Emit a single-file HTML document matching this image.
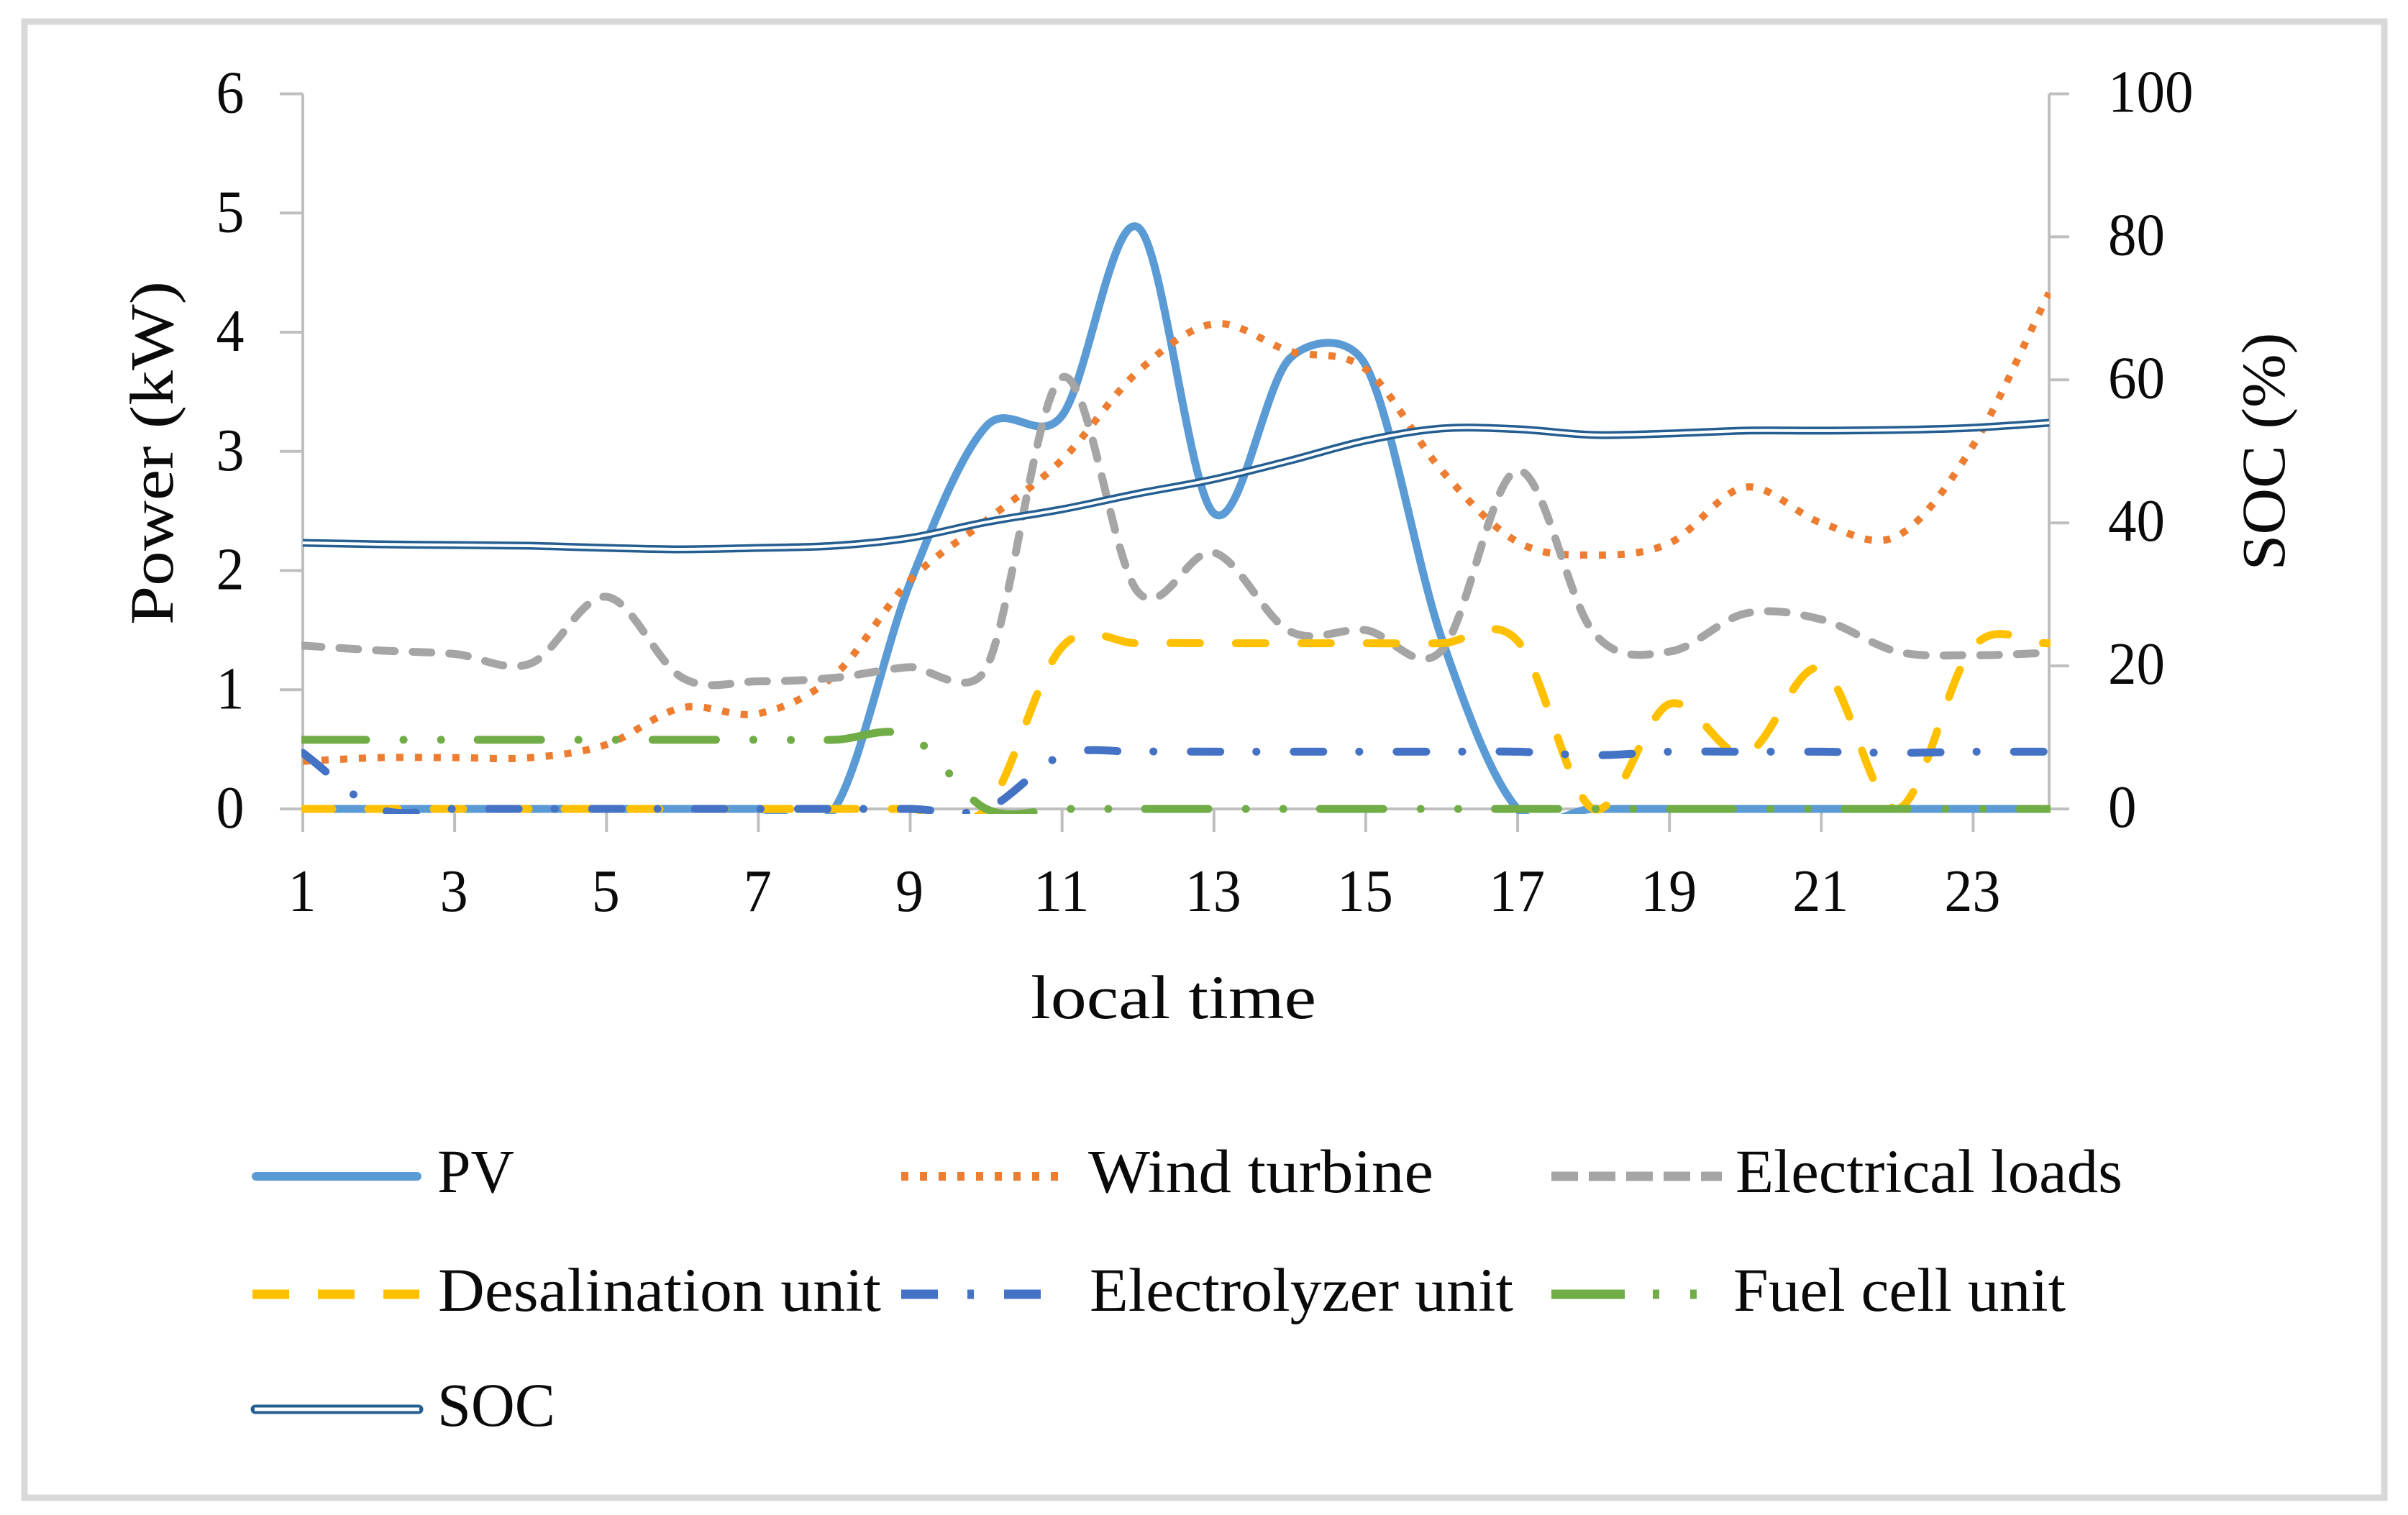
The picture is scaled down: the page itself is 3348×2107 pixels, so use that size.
<!DOCTYPE html>
<html>
<head>
<meta charset="utf-8">
<title>Power and SOC over local time</title>
<style>
html,body{margin:0;padding:0;background:#fff;width:3348px;height:2107px;overflow:hidden}
svg{display:block}
text{font-family:"Liberation Serif","DejaVu Serif",serif;fill:#0a0a0a}
</style>
</head>
<body>
<svg id="chart" xmlns="http://www.w3.org/2000/svg" width="3348" height="2107" viewBox="0 0 3348 2107">
  <rect x="34" y="30" width="3281" height="2053" fill="#fff" stroke="#d9d9d9" stroke-width="9"/>
  <defs><clipPath id="plot-clip"><rect x="419" y="100" width="2432" height="1032"/></clipPath></defs>
  <g id="axes"></g>
  <g id="series" clip-path="url(#plot-clip)" fill="none"></g>
  <text transform="translate(240,630) rotate(-90)" text-anchor="middle" font-size="86" textLength="478" lengthAdjust="spacingAndGlyphs">Power (kW)</text>
  <text transform="translate(3176,628) rotate(-90)" text-anchor="middle" font-size="86" textLength="331" lengthAdjust="spacingAndGlyphs">SOC (%)</text>
  <text x="1433" y="1416" font-size="86" textLength="397" lengthAdjust="spacingAndGlyphs">local time</text>

  <g>
    <g>
      <line x1="356" y1="1636" x2="580" y2="1636" stroke="#5b9bd5" stroke-width="12" stroke-linecap="round"/>
      <text x="608" y="1658" font-size="86" textLength="107" lengthAdjust="spacingAndGlyphs">PV</text>
    </g>
    <g>
      <line x1="1253" y1="1636" x2="1474" y2="1636" stroke="#ed7d31" stroke-width="12" stroke-dasharray="10 16"/>
      <text x="1513" y="1658" font-size="86" textLength="480" lengthAdjust="spacingAndGlyphs">Wind turbine</text>
    </g>
    <g>
      <line x1="2157" y1="1636" x2="2394" y2="1636" stroke="#a5a5a5" stroke-width="13" stroke-dasharray="37 15"/>
      <text x="2413" y="1658" font-size="86" textLength="538" lengthAdjust="spacingAndGlyphs">Electrical loads</text>
    </g>
    <g>
      <line x1="351" y1="1800" x2="583" y2="1800" stroke="#ffc000" stroke-width="13" stroke-dasharray="51 40"/>
      <text x="609" y="1823" font-size="86" textLength="616" lengthAdjust="spacingAndGlyphs">Desalination unit</text>
    </g>
    <g>
      <line x1="1253" y1="1800" x2="1447" y2="1800" stroke="#4472c4" stroke-width="13" stroke-dasharray="51 41 9 42"/>
      <text x="1515" y="1823" font-size="86" textLength="589" lengthAdjust="spacingAndGlyphs">Electrolyzer unit</text>
    </g>
    <g>
      <line x1="2157" y1="1800" x2="2364" y2="1800" stroke="#70ad47" stroke-width="13" stroke-dasharray="102 39 9 43 9 5"/>
      <text x="2410" y="1823" font-size="86" textLength="462" lengthAdjust="spacingAndGlyphs">Fuel cell unit</text>
    </g>
    <g>
      <line x1="355" y1="1960" x2="582" y2="1960" stroke="#255e91" stroke-width="13" stroke-linecap="round"/>
      <line x1="354" y1="1960" x2="583" y2="1960" stroke="#fff" stroke-width="5"/>
      <text x="608" y="1983" font-size="86" textLength="164" lengthAdjust="spacingAndGlyphs">SOC</text>
    </g>
  </g>
</svg>

<script>
var hours = [1,2,3,4,5,6,7,8,9,10,11,12,13,14,15,16,17,18,19,20,21,22,23,24];
var xTickLabels = [1,3,5,7,9,11,13,15,17,19,21,23];
var yTickLabels = [0,1,2,3,4,5,6];
var y2TickLabels = [0,20,40,60,80,100];

var pvValues = [0,0,0,0,0,0,0,0,1.90,3.21,3.30,4.88,2.48,3.78,3.72,1.43,0,0,0,0,0,0,0,0];
var windValues = [0.40,0.43,0.43,0.43,0.54,0.85,0.80,1.12,1.92,2.42,2.93,3.67,4.07,3.84,3.69,2.84,2.24,2.13,2.23,2.70,2.40,2.29,3.05,4.33];
var loadValues = [1.37,1.33,1.30,1.22,1.78,1.10,1.07,1.10,1.19,1.18,3.62,1.82,2.15,1.49,1.50,1.33,2.84,1.48,1.32,1.64,1.59,1.32,1.29,1.31];
var desalValues = [0,0,0,0,0,0,0,0,0,0,1.36,1.39,1.39,1.39,1.39,1.39,1.41,0,0.88,0.46,1.18,0,1.36,1.39];
var electrolyzerValues = [0.47,0,0,0,0,0,0,0,0,0,0.45,0.48,0.48,0.48,0.48,0.48,0.48,0.45,0.48,0.48,0.48,0.47,0.48,0.48];
var fuelCellValues = [0.58,0.58,0.58,0.58,0.58,0.58,0.58,0.58,0.61,0,0,0,0,0,0,0,0,0,0,0,0,0,0,0];
var socValues = [37.2,37,36.9,36.8,36.5,36.3,36.5,36.8,37.9,40.1,41.9,44.1,46.1,48.7,51.5,53.2,53.1,52.3,52.5,52.9,52.9,53,53.3,54];

var NS = 'http://www.w3.org/2000/svg';
var plotLeft = 421, plotRight = 2849, plotTop = 130.5, plotBottom = 1125;

function xScale(h){ return plotLeft + (h - 1) * (plotRight - plotLeft) / 23; }
function yScale(v){ return plotBottom - v * (plotBottom - plotTop) / 6; }
function y2Scale(v){ return plotBottom - v * (plotBottom - plotTop) / 100; }

function dist(a, b){ return Math.sqrt((a[0]-b[0])*(a[0]-b[0]) + (a[1]-b[1])*(a[1]-b[1])); }

/* Spreadsheet-style smoothing: control handles limited to half of the chord. */
function smoothPath(values, scale){
  var pts = values.map(function(v, i){ return [xScale(hours[i]), scale(v)]; });
  var d = 'M' + pts[0][0].toFixed(1) + ' ' + pts[0][1].toFixed(1);
  var last = pts.length - 1;
  for (var i = 0; i < last; i++){
    var p0 = pts[Math.max(i - 1, 0)], p1 = pts[i], p2 = pts[i + 1], p3 = pts[Math.min(i + 2, last)];
    var d02 = dist(p0, p2), d12 = dist(p1, p2), d13 = dist(p1, p3);
    var f = Math.min(1 / 6, (d12 / 2) / Math.max(d02, d13, 0.001));
    var f1 = i === 0 ? f * 2 : f;
    var f2 = i === last - 1 ? f * 2 : f;
    var c1x = p1[0] + (p2[0] - p0[0]) * f1, c1y = p1[1] + (p2[1] - p0[1]) * f1;
    var c2x = p2[0] - (p3[0] - p1[0]) * f2, c2y = p2[1] - (p3[1] - p1[1]) * f2;
    d += 'C' + c1x.toFixed(1) + ' ' + c1y.toFixed(1) + ' ' + c2x.toFixed(1) + ' ' + c2y.toFixed(1) + ' ' + p2[0].toFixed(1) + ' ' + p2[1].toFixed(1);
  }
  return d;
}

function make(tag, attrs, parent){
  var el = document.createElementNS(NS, tag);
  for (var k in attrs){ el.setAttribute(k, attrs[k]); }
  parent.appendChild(el);
  return el;
}

var axes = document.getElementById('axes');
var seriesGroup = document.getElementById('series');
var axisStyle = {stroke:'#bfbfbf', 'stroke-width':4, fill:'none'};
var el;

function styled(extra){
  var o = {};
  for (var k in axisStyle){ o[k] = axisStyle[k]; }
  for (var j in extra){ o[j] = extra[j]; }
  return o;
}

el = make('line', styled({x1:plotLeft, y1:plotTop, x2:plotLeft, y2:plotBottom}), axes);


el = make('line', styled({x1:plotRight, y1:plotTop, x2:plotRight, y2:plotBottom}), axes);


el = make('line', styled({x1:plotLeft, y1:plotBottom, x2:plotRight, y2:plotBottom}), axes);



yTickLabels.forEach(function(v){
  var t = make('line', styled({x1:389, y1:yScale(v), x2:plotLeft, y2:yScale(v)}), axes);
  
  
  var l = make('text', {x:320, y:yScale(v) + 26, 'text-anchor':'middle', 'font-size':84, textLength:39, lengthAdjust:'spacingAndGlyphs'}, axes);
  l.textContent = v;
  
  
});

y2TickLabels.forEach(function(v){
  var t = make('line', styled({x1:plotRight, y1:y2Scale(v), x2:2877, y2:y2Scale(v)}), axes);
  
  
  var n = String(v).length;
  var l = make('text', {x:2931, y:y2Scale(v) + 25, 'font-size':84, textLength:n * 39.5, lengthAdjust:'spacingAndGlyphs'}, axes);
  l.textContent = v;
  
  
});

xTickLabels.forEach(function(h){
  var t = make('line', styled({x1:xScale(h), y1:plotBottom, x2:xScale(h), y2:1157}), axes);
  
  
  var n = String(h).length;
  var l = make('text', {x:xScale(h) - 1, y:1267, 'text-anchor':'middle', 'font-size':84, textLength:n * 39, lengthAdjust:'spacingAndGlyphs'}, axes);
  l.textContent = h;
  
  
});

var p;
p = make('path', {d:smoothPath(pvValues, yScale), stroke:'#5b9bd5', 'stroke-width':11, fill:'none'}, seriesGroup);



p = make('path', {d:smoothPath(windValues, yScale), stroke:'#ed7d31', 'stroke-width':10, 'stroke-dasharray':'10 16', fill:'none'}, seriesGroup);



p = make('path', {d:smoothPath(loadValues, yScale), stroke:'#a5a5a5', 'stroke-width':11, 'stroke-dasharray':'26 25', 'stroke-linecap':'round', fill:'none'}, seriesGroup);



p = make('path', {d:smoothPath(desalValues, yScale), stroke:'#ffc000', 'stroke-width':11, 'stroke-dasharray':'41 50', 'stroke-linecap':'round', fill:'none'}, seriesGroup);



p = make('path', {d:smoothPath(electrolyzerValues, yScale), stroke:'#4472c4', 'stroke-width':11, 'stroke-dasharray':'41 50 0.1 52', 'stroke-linecap':'round', fill:'none'}, seriesGroup);



p = make('path', {d:smoothPath(fuelCellValues, yScale), stroke:'#70ad47', 'stroke-width':11, 'stroke-dasharray':'88 52 0.1 52 0.1 51', 'stroke-linecap':'round', fill:'none'}, seriesGroup);



p = make('path', {d:smoothPath(socValues, y2Scale), stroke:'#255e91', 'stroke-width':11, fill:'none'}, seriesGroup);


p = make('path', {d:smoothPath(socValues, y2Scale), stroke:'#ffffff', 'stroke-width':4, fill:'none'}, seriesGroup);


</script>
</body>
</html>
